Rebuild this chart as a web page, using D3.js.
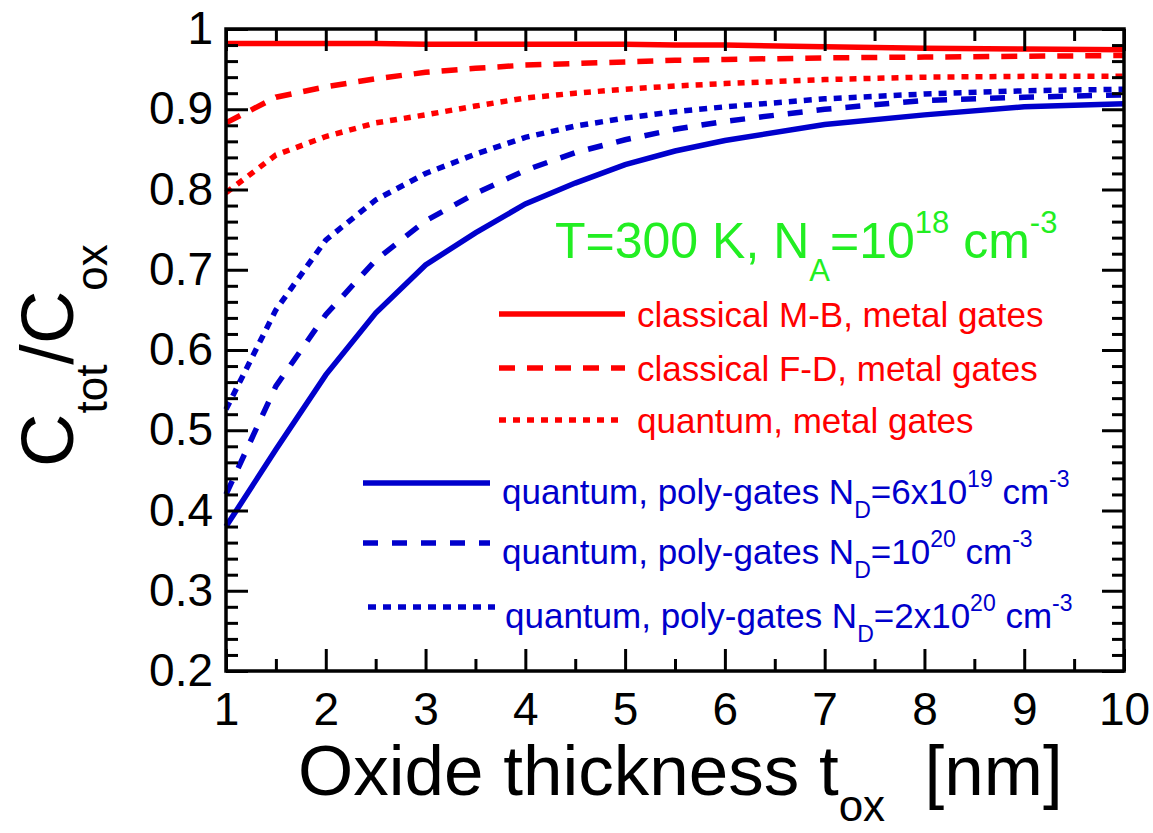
<!DOCTYPE html>
<html>
<head>
<meta charset="utf-8">
<script src="https://cdn.jsdelivr.net/npm/d3@7"></script>
<style>
  body { margin: 0; background: #ffffff; }
  text { font-family: "Liberation Sans", Arial, sans-serif; white-space: pre; }
</style>
</head>
<body>
<div id="chart-area"></div>
<script>

// C_tot / C_ox vs oxide thickness

const MARGINS = { TOP: 29, BOTTOM: 162, LEFT: 226, RIGHT: 29 }
const WIDTH = 1153 - MARGINS.LEFT - MARGINS.RIGHT
const HEIGHT = 833 - MARGINS.TOP - MARGINS.BOTTOM

const RED = "#ff0000"
const BLUE = "#0000cc"
const GREEN = "#22ee22"

// data
const thickness = [1, 1.5, 2, 2.5, 3, 3.5, 4, 4.5, 5, 5.5, 6, 7, 8, 9, 10]
const mbMetal   = [0.982, 0.982, 0.982, 0.982, 0.981, 0.981, 0.981, 0.981, 0.981, 0.980, 0.980, 0.978, 0.976, 0.975, 0.974]
const fdMetal   = [0.883, 0.915, 0.928, 0.938, 0.946, 0.951, 0.955, 0.957, 0.959, 0.961, 0.962, 0.964, 0.965, 0.966, 0.967]
const qmMetal   = [0.796, 0.843, 0.866, 0.883, 0.893, 0.904, 0.914, 0.920, 0.925, 0.929, 0.932, 0.937, 0.940, 0.941, 0.941]
const qmPoly6e19 = [0.380, 0.476, 0.569, 0.646, 0.706, 0.746, 0.782, 0.808, 0.831, 0.848, 0.861, 0.881, 0.893, 0.903, 0.907]
const qmPoly1e20 = [0.420, 0.555, 0.644, 0.712, 0.761, 0.795, 0.824, 0.846, 0.862, 0.875, 0.885, 0.900, 0.911, 0.915, 0.918]
const qmPoly2e20 = [0.526, 0.650, 0.737, 0.787, 0.820, 0.844, 0.865, 0.879, 0.889, 0.897, 0.903, 0.913, 0.919, 0.923, 0.925]

const xTicks = [1, 2, 3, 4, 5, 6, 7, 8, 9, 10]
const xMinor = [1.5, 2.5, 3.5, 4.5, 5.5, 6.5, 7.5, 8.5, 9.5]
const yTicks = [0.2, 0.3, 0.4, 0.5, 0.6, 0.7, 0.8, 0.9, 1]
const yMinor = d3.range(0.22, 1, 0.02).filter(d => Math.abs(d * 10 - Math.round(d * 10)) > 0.01)

const redLabels = [
    [["classical M-B, metal gates", ""]],
    [["classical F-D, metal gates", ""]],
    [["quantum, metal gates", ""]]
]
const blueLabels = [
    [["quantum, poly-gates N", ""], ["D", "sub"], ["=6x10", ""], ["19", "sup"], [" cm", ""], ["-3", "sup"]],
    [["quantum, poly-gates N", ""], ["D", "sub"], ["=10", ""], ["20", "sup"], [" cm", ""], ["-3", "sup"]],
    [["quantum, poly-gates N", ""], ["D", "sub"], ["=2x10", ""], ["20", "sup"], [" cm", ""], ["-3", "sup"]]
]
const annotation = [["T=300 K, N", ""], ["A", "sub"], ["=10", ""], ["18", "sup"], [" cm", ""], ["-3", "sup"]]

const SOLID = null
const DASH_RED = "16,12"
const DOT_RED = "7,7"
const DASH_BLUE = "15,14"
const DOT_BLUE = "8,7"

const series = [
    { values: mbMetal, color: RED, dash: SOLID },
    { values: fdMetal, color: RED, dash: DASH_RED },
    { values: qmMetal, color: RED, dash: DOT_RED },
    { values: qmPoly6e19, color: BLUE, dash: SOLID },
    { values: qmPoly1e20, color: BLUE, dash: DASH_BLUE },
    { values: qmPoly2e20, color: BLUE, dash: DOT_BLUE }
]

// writes text with sub / superscript parts
function richText(sel, parts, size, small, down, up) {
    let shift = 0
    parts.forEach(([str, kind]) => {
        const target = kind === "sub" ? down : kind === "sup" ? -up : 0
        sel.append("tspan")
            .attr("dy", target - shift)
            .attr("font-size", kind ? small : size)
            .text(str)
        shift = target
    })
}

const svg = d3.select("#chart-area").append("svg")
    .attr("width", WIDTH + MARGINS.LEFT + MARGINS.RIGHT)
    .attr("height", HEIGHT + MARGINS.TOP + MARGINS.BOTTOM)

const g = svg.append("g")
    .attr("transform", `translate(${MARGINS.LEFT}, ${MARGINS.TOP})`)

const x = d3.scaleLinear()
    .domain([1, 10])
    .range([0, WIDTH])

const y = d3.scaleLinear()
    .domain([0.2, 1])
    .range([HEIGHT, 0])

// curves
const line = d3.line()
    .x((d, i) => x(thickness[i]))
    .y(d => y(d))

g.selectAll(".curve")
    .data(series)
    .enter().append("path")
    .attr("class", "curve")
    .attr("d", d => line(d.values))
    .attr("fill", "none")
    .attr("stroke", d => d.color)
    .attr("stroke-width", 5.5)
    .attr("stroke-dasharray", d => d.dash)

// axes, ticks point inward
const axisStyle = sel => {
    sel.select(".domain").remove()
    sel.selectAll("line").attr("stroke", "#000").attr("stroke-width", 3)
    sel.selectAll("text").attr("font-size", "46px").attr("fill", "#000")
        .attr("font-family", '"Liberation Sans", Arial, sans-serif')
}

g.append("g")
    .attr("transform", `translate(0, ${HEIGHT})`)
    .call(d3.axisBottom(x).tickValues(xTicks).tickSize(-22).tickPadding(21).tickFormat(d3.format("d")))
    .call(axisStyle)
g.append("g")
    .attr("transform", `translate(0, ${HEIGHT})`)
    .call(d3.axisBottom(x).tickValues(xMinor).tickSize(-12).tickFormat(""))
    .call(axisStyle)
g.append("g")
    .call(d3.axisTop(x).tickValues(xTicks).tickSize(-22).tickFormat(""))
    .call(axisStyle)
g.append("g")
    .call(d3.axisTop(x).tickValues(xMinor).tickSize(-12).tickFormat(""))
    .call(axisStyle)

g.append("g")
    .call(d3.axisLeft(y).tickValues(yTicks).tickSize(-22).tickPadding(13)
        .tickFormat(d => d === 1 ? "1" : d.toFixed(1)))
    .call(axisStyle)
g.append("g")
    .call(d3.axisLeft(y).tickValues(yMinor).tickSize(-12).tickFormat(""))
    .call(axisStyle)
g.append("g")
    .attr("transform", `translate(${WIDTH}, 0)`)
    .call(d3.axisRight(y).tickValues(yTicks).tickSize(-22).tickFormat(""))
    .call(axisStyle)
g.append("g")
    .attr("transform", `translate(${WIDTH}, 0)`)
    .call(d3.axisRight(y).tickValues(yMinor).tickSize(-12).tickFormat(""))
    .call(axisStyle)

// frame
g.append("rect")
    .attr("width", WIDTH)
    .attr("height", HEIGHT)
    .attr("fill", "none")
    .attr("stroke", "#000")
    .attr("stroke-width", 3.5)

// axis titles
const xTitle = g.append("text")
    .attr("x", 72)
    .attr("y", HEIGHT + 124)
    .attr("fill", "#000")
richText(xTitle, [["Oxide thickness t", ""], ["ox", "sub"], ["  [nm]", ""]], "71px", "44px", 26, 0)

const yTitle = svg.append("text")
    .attr("transform", "translate(73, 467) rotate(-90)")
    .attr("fill", "#000")
richText(yTitle, [["C", ""], ["tot", "sub"], ["/C", ""], ["ox", "sub"]], "74px", "44px", 34, 0)

// condition label
const note = g.append("text")
    .attr("x", 329)
    .attr("y", 229)
    .attr("fill", GREEN)
richText(note, annotation, "50px", "31px", 23, 25)

// legend
const redRows = [285, 339, 391]
const blueRows = [454, 514, 578]

redLabels.forEach((parts, i) => {
    const s = series[i]
    g.append("line")
        .attr("x1", 273).attr("x2", 399)
        .attr("y1", redRows[i]).attr("y2", redRows[i])
        .attr("stroke", s.color)
        .attr("stroke-width", 5.5)
        .attr("stroke-dasharray", s.dash)
    const t = g.append("text")
        .attr("x", 411)
        .attr("y", redRows[i] + 13)
        .attr("fill", RED)
    richText(t, parts, "35px", "23px", 14, 17)
})

blueLabels.forEach((parts, i) => {
    const s = series[i + 3]
    const shift = i === 2 ? 5 : 0
    g.append("line")
        .attr("x1", 137 + shift).attr("x2", 264 + shift)
        .attr("y1", blueRows[i]).attr("y2", blueRows[i])
        .attr("stroke", s.color)
        .attr("stroke-width", 5.5)
        .attr("stroke-dasharray", s.dash)
    const t = g.append("text")
        .attr("x", 276 + (i === 2 ? 3 : 0))
        .attr("y", blueRows[i] + 21)
        .attr("fill", BLUE)
    richText(t, parts, "35px", "23px", 14, 17)
})

</script>
</body>
</html>
